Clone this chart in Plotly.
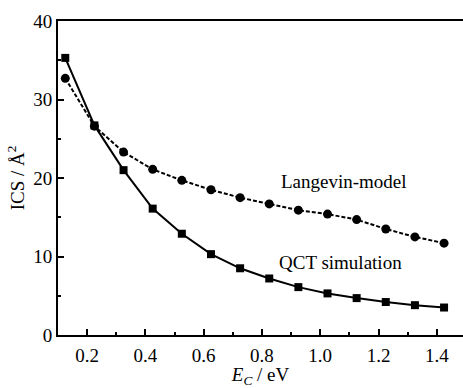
import plotly.graph_objects as go

energy = [0.125, 0.225, 0.325, 0.425, 0.525, 0.625, 0.725, 0.825, 0.925, 1.025, 1.125, 1.225, 1.325, 1.425]
qct_ics = [35.3, 26.7, 21.0, 16.1, 12.9, 10.3, 8.5, 7.2, 6.1, 5.3, 4.7, 4.2, 3.8, 3.5]
langevin_ics = [32.7, 26.6, 23.3, 21.1, 19.7, 18.5, 17.5, 16.7, 15.9, 15.4, 14.7, 13.5, 12.5, 11.7]

x_ticks = [0.2, 0.4, 0.6, 0.8, 1.0, 1.2, 1.4]
x_ticklabels = ["0.2", "0.4", "0.6", "0.8", "1.0", "1.2", "1.4"]
y_ticks = [0, 10, 20, 30, 40]

FONT = "Liberation Serif, Times New Roman, serif"

fig = go.Figure()
fig.add_trace(go.Scatter(
    x=energy, y=langevin_ics, mode="lines+markers",
    line=dict(color="black", width=2, dash="4px,2px"),
    marker=dict(symbol="circle", size=9, color="black"),
    showlegend=False))
fig.add_trace(go.Scatter(
    x=energy, y=qct_ics, mode="lines+markers",
    line=dict(color="black", width=2),
    marker=dict(symbol="square", size=8, color="black"),
    showlegend=False))

fig.add_annotation(x=1.08, y=19.5, text="Langevin-model", showarrow=False,
                   font=dict(family=FONT, size=19, color="black"))
fig.add_annotation(x=1.07, y=9.3, text="QCT simulation", showarrow=False,
                   font=dict(family=FONT, size=19, color="black"))

fig.update_layout(
    width=463, height=388,
    margin=dict(l=58, r=0, t=21, b=51),
    paper_bgcolor="white", plot_bgcolor="white",
    font=dict(family=FONT, size=19, color="black"),
    xaxis=dict(
        range=[0.1, 1.49], tickvals=x_ticks, ticktext=x_ticklabels,
        ticks="inside", ticklen=6, tickwidth=1.5, tickcolor="black",
        minor=dict(tickvals=[0.3, 0.5, 0.7, 0.9, 1.1, 1.3], ticks="inside", ticklen=3, tickwidth=1.5, tickcolor="black"),
        showline=True, linewidth=2, linecolor="black", mirror=True,
        showgrid=False, zeroline=False, ticklabelstandoff=2,
        title=dict(text="<i>E</i><sub><i>C</i></sub> / eV", standoff=9, font=dict(size=19)),
    ),
    yaxis=dict(
        range=[0, 40], tickvals=y_ticks,
        ticks="inside", ticklen=6, tickwidth=1.5, tickcolor="black",
        minor=dict(tickvals=[5, 15, 25, 35], ticks="inside", ticklen=3, tickwidth=1.5, tickcolor="black"),
        showline=True, linewidth=2, linecolor="black",
        showgrid=False, zeroline=False, ticklabelstandoff=0,
        title=dict(text="ICS / Å<sup>2</sup>", standoff=4, font=dict(size=19)),
    ),
)

fig.write_html("out.html")
